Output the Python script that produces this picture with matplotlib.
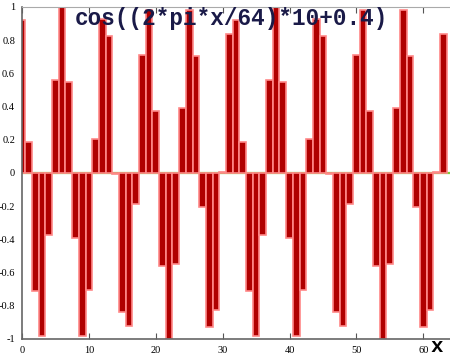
import matplotlib
matplotlib.use("Agg")
import matplotlib.pyplot as plt
import numpy as np

# values (one period of 32 samples repeats twice)
period = [0.921, 0.188, -0.712, -0.979, -0.375, 0.562, 1.000, 0.550,
          -0.389, -0.982, -0.702, 0.202, 0.927, 0.827, -0.007, -0.836,
          -0.921, -0.188, 0.712, 0.979, 0.375, -0.562, -1.000, -0.550,
          0.389, 0.982, 0.702, -0.202, -0.927, -0.827, 0.007, 0.836]
values = period + period
xs = list(range(len(values)))
title_text = "cos((2*pi*x/64)*10+0.4)"
xticks = [0, 10, 20, 30, 40, 50, 60]
yticks = [-1, -0.8, -0.6, -0.4, -0.2, 0, 0.2, 0.4, 0.6, 0.8, 1]
ytick_labels = ["-1", "-0.8", "-0.6", "-0.4", "-0.2", "0", "0.2", "0.4", "0.6", "0.8", "1"]

fig = plt.figure(figsize=(4.5, 3.6), dpi=100)
ax = fig.add_axes([22/450, 1-339/360, 1-22/450, (339-7)/360])

ax.axhline(0, color="#7ccd3a", lw=1.6, zorder=1)
ax.bar(xs, values, width=1.0, align="center", color="#b00000",
       edgecolor="#ff8888", linewidth=1.2, zorder=2)

ax.set_xlim(0, 64)
ax.set_ylim(-1, 1)
ax.set_xticks(xticks)
ax.set_xticklabels([str(t) for t in xticks], family="Liberation Serif", fontsize=7.5)
ax.set_yticks(yticks)
ax.set_yticklabels(ytick_labels, family="Liberation Serif", fontsize=7.5)
ax.tick_params(axis="x", direction="in", length=4, top=True, color="#555555", pad=5)
ax.tick_params(axis="y", direction="in", length=0, pad=5)

for s in ["left", "bottom"]:
    ax.spines[s].set_color("#666666")
    ax.spines[s].set_linewidth(1.2)
ax.spines["top"].set_color("#aaaaaa")
ax.spines["right"].set_visible(False)

ax.text((231-22)/428, (339-18.5)/332, title_text, transform=ax.transAxes, ha="center", va="center",
        family="Liberation Mono", fontweight="bold", fontsize=16.3, color="#1a1a48", zorder=5)
fig.text(437/450, 1-347/360, "x", ha="center", va="center",
         family="Liberation Mono", fontweight="bold", fontsize=15, color="black")

fig.savefig("out.png", dpi=100)
